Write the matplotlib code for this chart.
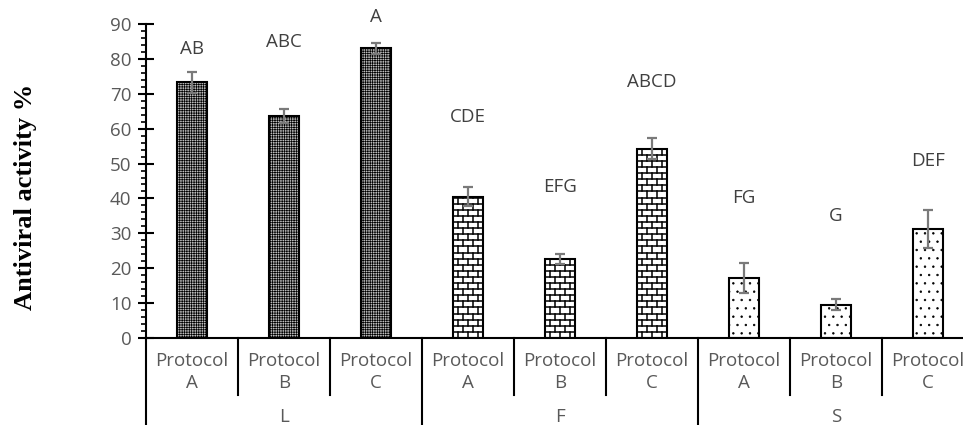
import numpy as np
import matplotlib
matplotlib.use("Agg")
import matplotlib.pyplot as plt
from matplotlib.lines import Line2D

groups = ["L", "F", "S"]
protocols = ["Protocol\nA", "Protocol\nB", "Protocol\nC"]
activity = [73.3, 63.7, 83.0, 40.5, 22.6, 54.3, 17.3, 9.6, 31.2]
errors = [3.0, 2.0, 1.5, 2.8, 1.4, 3.0, 4.3, 1.5, 5.5]
letters = ["AB", "ABC", "A", "CDE", "EFG", "ABCD", "FG", "G", "DEF"]
letter_y = [82.8, 84.8, 92.0, 63.4, 43.4, 73.4, 40.1, 35.0, 50.8]

plt.rcParams['font.family'] = ['Open Sans', 'DejaVu Sans']
plt.rcParams['hatch.linewidth'] = 0.5

fig = plt.figure(figsize=(9.63, 4.25), dpi=100)
ax = fig.add_axes([146/963, 87/425, 828/963, 314/425])

x = np.arange(len(activity))
width = 0.33
tick_grey = "#595959"
fs = 13.5

bars = ax.bar(x, activity, width=width, color="white", edgecolor="black",
              linewidth=1.5, zorder=2)

# L: dense grey checker, S: sparse dots
for i, b in enumerate(bars):
    if i < 3:
        b.set_facecolor("#bdbdbd")
        b.set_hatch("+++++++")
    elif i >= 6:
        b.set_hatch("..")

# F: brick texture drawn inside the bars
row_h = 1.75
brick_w = width / 3
for b in bars[3:6]:
    x0, w, h = b.get_x(), b.get_width(), b.get_height()
    for yr in np.arange(row_h, h, row_h):
        ax.plot([x0, x0 + w], [yr, yr], color="black", lw=1.1, zorder=3,
                clip_path=b)
    for k, y0 in enumerate(np.arange(0, h, row_h)):
        shift = 0 if k % 2 == 0 else brick_w / 2
        for xv in np.arange(x0 + shift + brick_w / 2, x0 + w, brick_w):
            ax.plot([xv, xv], [y0, min(y0 + row_h, h)], color="black",
                    lw=1.1, zorder=3, clip_path=b)

ax.errorbar(x, activity, yerr=errors, fmt="none", ecolor="#7a7a7a",
            elinewidth=1.6, capsize=3.8, capthick=1.6, zorder=4)

for xi, lab, ly in zip(x, letters, letter_y):
    ax.text(xi, ly, lab, ha="center", va="center", fontsize=fs,
            color="#404040")

ax.set_xlim(-0.5, len(activity) - 0.5)
ax.set_ylim(0, 90)
ax.set_yticks(np.arange(0, 91, 10))
ax.set_yticks(np.arange(0, 91, 2), minor=True)
ax.tick_params(axis="y", which="major", direction="inout", length=11,
               width=1.5, labelsize=fs, labelcolor=tick_grey, pad=5)
ax.tick_params(axis="y", which="minor", direction="out", length=3.5,
               width=1.2)
ax.set_xticks([])

for s in ["top", "right"]:
    ax.spines[s].set_visible(False)
ax.spines["left"].set_linewidth(1.5)
ax.spines["bottom"].set_linewidth(1.5)

# category table under the axis
trans = ax.get_xaxis_transform()
for i in range(len(activity) + 1):
    xs = i - 0.5
    bottom = -0.32 if i % 3 == 0 else -0.182
    ax.add_line(Line2D([xs, xs], [0, bottom], transform=trans, color="black",
                       lw=1.5, clip_on=False))
for i, xi in enumerate(x):
    ax.text(xi, -0.108, protocols[i % 3], transform=trans, ha="center",
            va="center", fontsize=fs, color=tick_grey, linespacing=1.25)
for g, name in enumerate(groups):
    ax.text(3 * g + 1, -0.252, name, transform=trans, ha="center",
            va="center", fontsize=fs, color=tick_grey)

fig.text(26/963, 1 - 197/425, "Antiviral activity %", rotation=90,
         ha="center", va="center", fontsize=19, fontweight="bold",
         family=["Liberation Serif", "DejaVu Serif"])

fig.savefig("out.png", dpi=100)
